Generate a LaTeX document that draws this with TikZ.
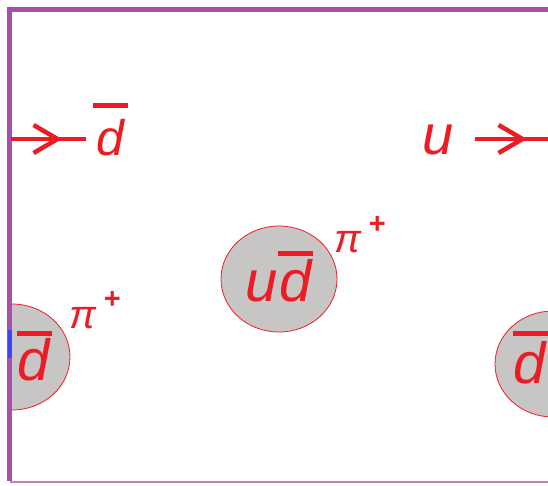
\documentclass[tikz,border=0pt]{standalone}
\usepackage{fontspec}
\setmainfont{Liberation Sans}
\usetikzlibrary{arrows.meta,positioning,shapes.geometric}
\definecolor{quarkred}{RGB}{236,28,36}
\definecolor{framepurple}{RGB}{168,78,172}
\definecolor{mesongray}{RGB}{200,197,197}
% antiquark: bar above the letter, #1 = gap
\newcommand{\qbar}[2][4pt]{\leavevmode\vbox{\hrule width 35pt height 4.5pt\kern#1\hbox to 35pt{\hss#2\hss}}}
\newcommand{\pip}[1][19pt]{π\kern 8pt\raisebox{#1}{\fontsize{29}{30}\selectfont\bfseries\upshape +}}

\begin{document}
\begin{tikzpicture}[x=1pt, y=-1pt,
    quark/.style={inner sep=0pt, anchor=base, text=quarkred, font=\fontsize{50}{54}\selectfont\itshape},
    inquark/.style={quark, font=\fontsize{58}{62}\selectfont\itshape},
    pion/.style={inner sep=0pt, anchor=base, text=quarkred, font=\fontsize{40}{44}\selectfont\itshape},
    meson/.style={ellipse, draw=quarkred, fill=mesongray, line width=0.8pt, minimum width=116pt, minimum height=106pt, inner sep=0pt},
    arrow/.style={-{Straight Barb[length=24pt, width=28pt, line width=4.5pt]}, line width=4.5pt, quarkred},
    line/.style={line width=4.5pt, quarkred}
]
\useasboundingbox (0,0) rectangle (548,485);
\begin{scope}
\clip (0,0) rectangle (548,485);

% Mesons
\node[meson] (mc) at (279,279) {};
\begin{scope}
\clip (10,0) rectangle (548,485);
\node[meson] (ml) at (12,357) {};
\end{scope}
\node[meson] (mr) at (553,364) {};

% Frame (right side outside)
\draw[framepurple, line width=5pt] (600,9.5) -- (9.5,9.5) -- (9.5,481);
\draw[framepurple!70!white, line width=1.5pt] (9.5,482) -- (600,482);
\fill[blue!75!white] (7.5,330) rectangle (11.5,358);

% Quark labels
\node[quark] (dl) at (110,155) {\qbar[11pt]{d}};
\node[quark, font=\fontsize{56}{60}\selectfont\itshape] (u) at (438,154) {u};
\node[inquark] (qc) at (279,301) {u\qbar[3pt]{d}};
\node[inquark] (ql) at (34,380) {\qbar[2pt]{d}};
\node[inquark] (qr) at (530,383) {\qbar[5pt]{d}};

% Pion labels
\node[pion] (pc) at (360,252) {\pip};
\node[pion] (pl) at (95,328) {\pip[20pt]};

% Quark lines
\coordinate (lstart) at (11,139);
\coordinate (ltip) at (62,139);
\coordinate (lend) at (86,139);
\coordinate (rstart) at (475,139);
\coordinate (rtip) at (527,139);
\coordinate (rend) at (560,139);
\draw[line] (lstart) -- (lend);
\draw[arrow] (lstart) -- (ltip);
\draw[line] (rstart) -- (rend);
\draw[arrow] (rstart) -- (rtip);
\end{scope}
\end{tikzpicture}
\end{document}
